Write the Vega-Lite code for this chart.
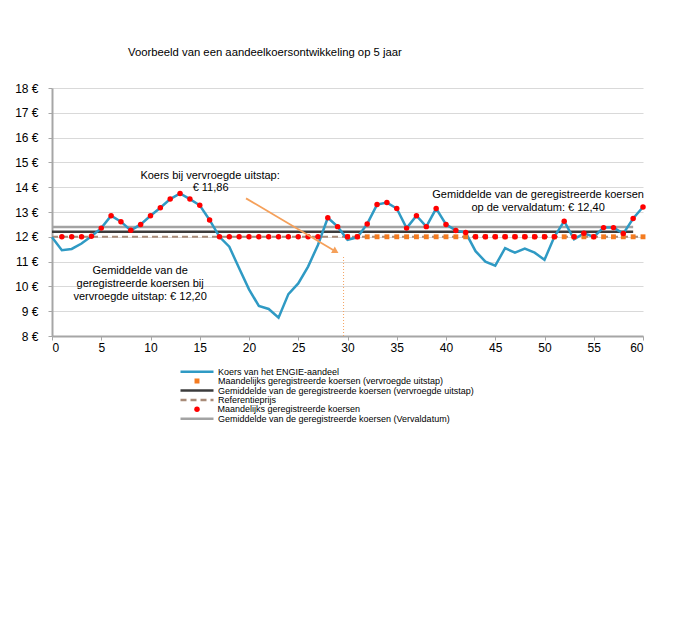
{
  "$schema": "https://vega.github.io/schema/vega-lite/v6.json",
  "autosize": {"type": "none"},
  "width": 591,
  "height": 248,
  "padding": {"left": 52, "top": 88, "right": 45, "bottom": 283},
  "background": "white",
  "config": {
    "view": {"stroke": null},
    "font": "Liberation Sans",
    "legend": {"orient": "none", "legendX": 127, "direction": "vertical", "symbolSize": 1089, "clipHeight": 9.4, "rowPadding": 0, "padding": 0, "labelFontSize": 9, "labelFont": "Liberation Sans", "labelColor": "black", "labelOffset": 3, "labelLimit": 500, "symbolStrokeWidth": 2.5, "symbolType": "stroke", "titlePadding": 0}
  },
  "title": {"text": "Voorbeeld van een aandeelkoersontwikkeling op 5 jaar", "anchor": "start", "frame": "group", "dx": 76, "offset": 24, "fontSize": 11.3, "fontWeight": "normal", "font": "Liberation Sans", "color": "black"},
  "datasets": {
    "koers": [
      {"month": 0, "value": 11.98}, {"month": 1, "value": 11.46}, {"month": 2, "value": 11.51}, {"month": 3, "value": 11.73}, {"month": 4, "value": 12.02},
      {"month": 5, "value": 12.35}, {"month": 6, "value": 12.85}, {"month": 7, "value": 12.61}, {"month": 8, "value": 12.26}, {"month": 9, "value": 12.5},
      {"month": 10, "value": 12.85}, {"month": 11, "value": 13.17}, {"month": 12, "value": 13.52}, {"month": 13, "value": 13.75}, {"month": 14, "value": 13.52},
      {"month": 15, "value": 13.27}, {"month": 16, "value": 12.68}, {"month": 17, "value": 12.0}, {"month": 18, "value": 11.6}, {"month": 19, "value": 10.73},
      {"month": 20, "value": 9.88}, {"month": 21, "value": 9.21}, {"month": 22, "value": 9.09}, {"month": 23, "value": 8.74}, {"month": 24, "value": 9.69},
      {"month": 25, "value": 10.12}, {"month": 26, "value": 10.8}, {"month": 27, "value": 11.67}, {"month": 28, "value": 12.77}, {"month": 29, "value": 12.41},
      {"month": 30, "value": 11.88}, {"month": 31, "value": 11.98}, {"month": 32, "value": 12.52}, {"month": 33, "value": 13.3}, {"month": 34, "value": 13.38},
      {"month": 35, "value": 13.14}, {"month": 36, "value": 12.35}, {"month": 37, "value": 12.85}, {"month": 38, "value": 12.41}, {"month": 39, "value": 13.14},
      {"month": 40, "value": 12.5}, {"month": 41, "value": 12.25}, {"month": 42, "value": 12.17}, {"month": 43, "value": 11.42}, {"month": 44, "value": 11.0},
      {"month": 45, "value": 10.84}, {"month": 46, "value": 11.54}, {"month": 47, "value": 11.36}, {"month": 48, "value": 11.52}, {"month": 49, "value": 11.36},
      {"month": 50, "value": 11.07}, {"month": 51, "value": 12.0}, {"month": 52, "value": 12.63}, {"month": 53, "value": 11.9}, {"month": 54, "value": 12.14},
      {"month": 55, "value": 12.0}, {"month": 56, "value": 12.37}, {"month": 57, "value": 12.37}, {"month": 58, "value": 12.13}, {"month": 59, "value": 12.74},
      {"month": 60, "value": 13.2}
    ],
    "maand": [
      {"month": 1, "value": 12.0}, {"month": 2, "value": 12.0}, {"month": 3, "value": 12.0}, {"month": 4, "value": 12.02},
      {"month": 5, "value": 12.35}, {"month": 6, "value": 12.85}, {"month": 7, "value": 12.61}, {"month": 8, "value": 12.26}, {"month": 9, "value": 12.5},
      {"month": 10, "value": 12.85}, {"month": 11, "value": 13.17}, {"month": 12, "value": 13.52}, {"month": 13, "value": 13.75}, {"month": 14, "value": 13.52},
      {"month": 15, "value": 13.27}, {"month": 16, "value": 12.68}, {"month": 17, "value": 12.0}, {"month": 18, "value": 12.0}, {"month": 19, "value": 12.0},
      {"month": 20, "value": 12.0}, {"month": 21, "value": 12.0}, {"month": 22, "value": 12.0}, {"month": 23, "value": 12.0}, {"month": 24, "value": 12.0},
      {"month": 25, "value": 12.0}, {"month": 26, "value": 12.0}, {"month": 27, "value": 12.0}, {"month": 28, "value": 12.77}, {"month": 29, "value": 12.41},
      {"month": 30, "value": 12.0}, {"month": 31, "value": 12.0}, {"month": 32, "value": 12.52}, {"month": 33, "value": 13.3}, {"month": 34, "value": 13.38},
      {"month": 35, "value": 13.14}, {"month": 36, "value": 12.35}, {"month": 37, "value": 12.85}, {"month": 38, "value": 12.41}, {"month": 39, "value": 13.14},
      {"month": 40, "value": 12.5}, {"month": 41, "value": 12.25}, {"month": 42, "value": 12.17}, {"month": 43, "value": 12.0}, {"month": 44, "value": 12.0},
      {"month": 45, "value": 12.0}, {"month": 46, "value": 12.0}, {"month": 47, "value": 12.0}, {"month": 48, "value": 12.0}, {"month": 49, "value": 12.0},
      {"month": 50, "value": 12.0}, {"month": 51, "value": 12.0}, {"month": 52, "value": 12.63}, {"month": 53, "value": 12.0}, {"month": 54, "value": 12.14},
      {"month": 55, "value": 12.0}, {"month": 56, "value": 12.37}, {"month": 57, "value": 12.37}, {"month": 58, "value": 12.13}, {"month": 59, "value": 12.74},
      {"month": 60, "value": 13.2}
    ],
    "vroeg": [
      {"month": 30, "value": 12.0}, {"month": 31, "value": 12.0}, {"month": 32, "value": 12.0}, {"month": 33, "value": 12.0}, {"month": 34, "value": 12.0},
      {"month": 35, "value": 12.0}, {"month": 36, "value": 12.0}, {"month": 37, "value": 12.0}, {"month": 38, "value": 12.0}, {"month": 39, "value": 12.0},
      {"month": 40, "value": 12.0}, {"month": 41, "value": 12.0}, {"month": 42, "value": 12.0}, {"month": 43, "value": 12.0}, {"month": 44, "value": 12.0},
      {"month": 45, "value": 12.0}, {"month": 46, "value": 12.0}, {"month": 47, "value": 12.0}, {"month": 48, "value": 12.0}, {"month": 49, "value": 12.0},
      {"month": 50, "value": 12.0}, {"month": 51, "value": 12.0}, {"month": 52, "value": 12.0}, {"month": 53, "value": 12.0}, {"month": 54, "value": 12.0},
      {"month": 55, "value": 12.0}, {"month": 56, "value": 12.0}, {"month": 57, "value": 12.0}, {"month": 58, "value": 12.0}, {"month": 59, "value": 12.0},
      {"month": 60, "value": 12.0}
    ],
    "avgvroeg": [{"month": 0, "end": 59, "value": 12.2}],
    "avgverval": [{"month": 0, "end": 59, "value": 12.4}],
    "ref": [{"month": 0, "end": 60, "value": 12.0}],
    "notes": [
      {"month": 16.05, "value": 14.45, "text": "Koers bij vervroegde uitstap:"},
      {"month": 16.1, "value": 13.97, "text": "€ 11,86"},
      {"month": 8.95, "value": 10.62, "text": "Gemiddelde van de"},
      {"month": 8.95, "value": 10.1, "text": "geregistreerde koersen bij"},
      {"month": 8.95, "value": 9.57, "text": "vervroegde uitstap: € 12,20"},
      {"month": 49.35, "value": 13.69, "text": "Gemiddelde van de geregistreerde koersen"},
      {"month": 49.35, "value": 13.16, "text": "op de vervaldatum: € 12,40"}
    ],
    "arrow": [{"month": 19.7, "value": 13.55, "endMonth": 28.8, "endValue": 11.41}],
    "exit": [{"month": 29.6, "value": 8, "high": 11.23}]
  },
  "encoding": {
    "x": {"field": "month", "type": "quantitative", "scale": {"domain": [0, 60], "nice": false},
      "axis": {"values": [0, 5, 10, 15, 20, 25, 30, 35, 40, 45, 50, 55, 60], "tickCount": 30, "title": null, "grid": false, "domainColor": "#a6a6a6", "domainWidth": 2, "tickColor": "#a6a6a6", "tickSize": 4, "labelFontSize": 12, "labelFont": "Liberation Sans", "labelColor": "black", "labelPadding": 2}},
    "y": {"field": "value", "type": "quantitative", "scale": {"domain": [8, 18], "nice": false, "zero": false},
      "axis": {"values": [8, 9, 10, 11, 12, 13, 14, 15, 16, 17, 18], "tickCount": 30, "labelExpr": "datum.value + ' €'", "labelOverlap": false, "title": null, "grid": true, "gridColor": "#d9d9d9", "gridWidth": 1, "domainColor": "#a6a6a6", "domainWidth": 2, "tickColor": "#a6a6a6", "tickSize": 4, "labelFontSize": 12, "labelFont": "Liberation Sans", "labelColor": "black", "labelPadding": 10}}
  },
  "layer": [
    {
      "data": {"name": "avgverval"},
      "mark": {"type": "rule", "color": "#a3a3a3"},
      "encoding": {
        "x2": {"field": "end"},
        "strokeWidth": {"datum": "Gemiddelde van de geregistreerde koersen (Vervaldatum)", "type": "nominal",
          "scale": {"type": "point", "domain": ["Gemiddelde van de geregistreerde koersen (Vervaldatum)"], "range": [2.5, 2.5]},
          "legend": {"title": null, "legendY": 326, "symbolType": "stroke", "symbolStrokeColor": "#a3a3a3"}}
      }
    },
    {
      "data": {"name": "avgvroeg"},
      "mark": {"type": "rule", "strokeWidth": 2.5},
      "encoding": {
        "x2": {"field": "end"},
        "color": {"datum": "Gemiddelde van de geregistreerde koersen (vervroegde uitstap)", "type": "nominal",
          "scale": {"domain": ["Gemiddelde van de geregistreerde koersen (vervroegde uitstap)"], "range": ["#3c3c3c"]},
          "legend": {"title": null, "legendY": 297.8, "symbolType": "stroke"}}
      }
    },
    {
      "data": {"name": "ref"},
      "mark": {"type": "rule", "strokeWidth": 2, "color": "#a88b78"},
      "encoding": {
        "x2": {"field": "end"},
        "strokeDash": {"datum": "Referentieprijs", "type": "nominal",
          "scale": {"domain": ["Referentieprijs"], "range": [[6, 4]]},
          "legend": {"title": null, "legendY": 307.2, "symbolType": "stroke", "symbolStrokeColor": "#a88b78"}}
      }
    },
    {
      "data": {"name": "exit"},
      "mark": {"type": "rule", "strokeWidth": 1, "strokeDash": [1, 2], "color": "#f4a261"},
      "encoding": {
        "y2": {"field": "high"}
      }
    },
    {
      "data": {"name": "koers"},
      "mark": {"type": "line", "strokeWidth": 2.5},
      "encoding": {
        "stroke": {"datum": "Koers van het ENGIE-aandeel", "type": "nominal",
          "scale": {"domain": ["Koers van het ENGIE-aandeel"], "range": ["#2f9ac4"]},
          "legend": {"title": null, "legendY": 279, "symbolType": "stroke"}}
      }
    },
    {
      "data": {"name": "vroeg"},
      "mark": {"type": "point", "shape": "square", "filled": true, "size": 24, "opacity": 1},
      "encoding": {
        "fill": {"datum": "Maandelijks geregistreerde koersen (vervroegde uitstap)", "type": "nominal",
          "scale": {"domain": ["Maandelijks geregistreerde koersen (vervroegde uitstap)"], "range": ["#f47b20"]},
          "legend": {"title": null, "legendY": 288.4, "symbolType": "M-0.15,-0.15H0.15V0.15H-0.15Z", "symbolStrokeColor": "transparent"}}
      }
    },
    {
      "data": {"name": "maand"},
      "mark": {"type": "point", "filled": true, "size": 30, "opacity": 1, "color": "#ff0000"},
      "encoding": {
        "shape": {"datum": "Maandelijks geregistreerde koersen", "type": "nominal",
          "scale": {"domain": ["Maandelijks geregistreerde koersen"], "range": ["circle"]},
          "legend": {"title": null, "legendY": 316.6, "symbolSize": 30, "symbolStrokeWidth": 0, "symbolOffset": 13.5, "labelOffset": 16, "symbolFillColor": "#ff0000", "symbolStrokeColor": "transparent"}}
      }
    },
    {
      "data": {"name": "arrow"},
      "mark": {"type": "rule", "strokeWidth": 1.8, "color": "#f5a05a"},
      "encoding": {
        "x2": {"field": "endMonth"},
        "y2": {"field": "endValue"}
      }
    },
    {
      "data": {"name": "arrow"},
      "mark": {"type": "point", "shape": "triangle-right", "filled": true, "size": 55, "angle": 30.5, "color": "#f5a05a", "opacity": 1},
      "encoding": {
        "x": {"field": "endMonth", "type": "quantitative"},
        "y": {"field": "endValue", "type": "quantitative"}
      }
    },
    {
      "data": {"name": "notes"},
      "mark": {"type": "text", "align": "center", "baseline": "middle", "fontSize": 11, "font": "Liberation Sans", "color": "black"},
      "encoding": {
        "text": {"field": "text"}
      }
    }
  ]
}
